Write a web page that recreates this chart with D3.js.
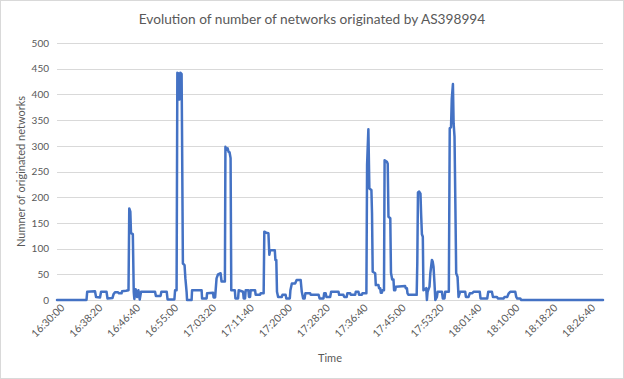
<!DOCTYPE html>
<html>
<head>
<meta charset="utf-8">
<script src="https://cdn.jsdelivr.net/npm/d3@7"></script>
<style>
  html, body { margin: 0; padding: 0; background: #fff; }
  svg { display: block; }
  text { font-family: Lato, "Noto Sans", sans-serif; }
</style>
</head>
<body>
<svg id="chart" width="624" height="379"></svg>
<script>
const chartTitle = "Evolution of number of networks originated by AS398994";
const yAxisTitle = "Numner of originated networks";
const xAxisTitle = "Time";

const yTicks = [0, 50, 100, 150, 200, 250, 300, 350, 400, 450, 500];
const xTickLabels = ["16:30:00", "16:38:20", "16:46:40", "16:55:00", "17:03:20", "17:11:40", "17:20:00",
  "17:28:20", "17:36:40", "17:45:00", "17:53:20", "18:01:40", "18:10:00", "18:18:20", "18:26:40"];
const xDomain = ["16:30:00", "18:30:00"];

const times = [
  "16:30:00","16:36:29","16:36:38","16:38:21","16:38:35","16:39:27","16:39:41","16:40:53","16:41:06","16:42:12",
  "16:42:25","16:42:45","16:43:25","16:43:38","16:44:11","16:44:18","16:45:10","16:45:43","16:45:53","16:46:07",
  "16:46:16","16:46:40","16:46:52","16:47:00","16:47:17","16:47:36","16:47:53","16:48:11","16:48:28","16:51:33",
  "16:51:44","16:52:46","16:52:56","16:54:07","16:54:18","16:55:48","16:55:57","16:56:17","16:56:27","16:56:43",
  "16:56:54","16:57:07","16:57:23","16:57:29","16:57:40","16:58:02","16:58:13","16:58:29","16:58:35","16:59:35",
  "16:59:41","17:01:47","17:01:53","17:02:53","17:02:59","17:04:18","17:04:25","17:04:45","17:05:04","17:05:24",
  "17:05:57","17:06:10","17:06:54","17:07:01","17:07:16","17:07:30","17:07:43","17:07:56","17:08:09","17:08:18",
  "17:09:05","17:09:13","17:09:48","17:09:56","17:10:54","17:11:02","17:11:20","17:11:28","17:12:04","17:12:12",
  "17:12:26","17:12:34","17:13:32","17:13:40","17:14:38","17:14:46","17:15:25","17:15:34","17:15:58","17:16:28",
  "17:16:40","17:16:50","17:17:52","17:18:00","17:18:12","17:18:21","17:18:36","17:19:25","17:19:33","17:20:15",
  "17:20:24","17:21:10","17:21:18","17:21:37","17:22:20","17:22:40","17:23:33","17:23:48","17:24:06","17:24:25",
  "17:24:35","17:25:38","17:25:46","17:27:30","17:27:43","17:28:34","17:28:43","17:29:03","17:29:13","17:30:02",
  "17:30:15","17:31:52","17:32:01","17:32:57","17:33:07","17:33:40","17:33:49","17:34:26","17:34:34","17:35:32",
  "17:35:40","17:36:15","17:36:23","17:37:00","17:37:08","17:38:00","17:38:09","17:38:26","17:38:39","17:39:06",
  "17:39:14","17:39:23","17:39:56","17:40:04","17:40:39","17:40:47","17:41:02","17:41:10","17:41:24","17:41:31",
  "17:41:52","17:42:00","17:42:30","17:42:41","17:42:51","17:43:15","17:43:24","17:43:40","17:43:57","17:44:05",
  "17:44:20","17:44:28","17:46:31","17:46:39","17:46:54","17:47:02","17:47:15","17:49:03","17:49:11","17:49:20",
  "17:49:36","17:49:53","17:50:01","17:50:12","17:50:24","17:50:32","17:51:09","17:51:18","17:51:27","17:51:52",
  "17:52:03","17:52:24","17:52:34","17:52:45","17:52:58","17:53:09","17:53:30","17:53:39","17:54:36","17:54:48",
  "17:55:10","17:55:19","17:56:07","17:56:19","17:56:36","17:56:46","17:57:01","17:57:10","17:57:22","17:57:33",
  "17:57:44","17:58:02","17:58:15","17:58:35","17:59:43","17:59:52","18:00:27","18:00:43","18:01:16","18:01:33",
  "18:02:55","18:03:05","18:04:33","18:04:47","18:05:35","18:05:49","18:06:41","18:06:53","18:08:08","18:08:22",
  "18:08:57","18:09:17","18:09:37","18:10:43","18:10:56","18:11:09","18:11:49","18:12:02","18:30:00"
];
const values = [
  0,0,16,17,6,5,16,16,3,4,
  11,15,15,13,13,17,18,19,178,172,
  130,128,16,2,21,6,19,1,16,16,
  8,8,16,16,1,1,19,19,442,441,
  390,442,440,321,71,68,42,16,0,0,
  19,19,3,3,13,14,5,5,42,50,
  52,36,36,298,292,295,288,287,276,19,
  19,3,3,19,16,3,3,19,19,6,
  6,19,19,10,10,13,13,133,131,130,
  88,97,97,78,78,16,6,6,10,10,
  3,3,19,32,32,39,39,16,3,3,
  13,13,10,10,3,3,13,13,6,6,
  16,16,10,10,6,6,13,13,10,10,
  16,16,10,10,13,13,263,332,217,214,
  169,55,52,29,29,23,23,14,14,19,
  19,272,269,265,162,159,53,40,40,19,
  19,26,27,23,23,13,10,10,71,209,
  211,207,169,128,123,19,23,0,16,26,
  52,78,75,65,32,0,6,16,16,3,
  3,16,16,334,336,392,420,344,318,188,
  52,45,6,16,16,6,6,13,13,16,
  16,3,3,16,16,6,6,3,3,6,
  6,13,16,16,6,3,3,0,0
];

const parse = d3.timeParse("%H:%M:%S");
const fmt = d3.timeFormat("%H:%M:%S");
const data = times.map((t, i) => ({ t: parse(t), v: values[i] }));

const svg = d3.select("#chart");
const W = 624, H = 379;
const plot = { left: 57, right: 603, top: 43, bottom: 300 };
const textColor = "#595959";

svg.append("rect").attr("x", 0.5).attr("y", 0.5).attr("width", W - 1).attr("height", H - 1)
  .attr("fill", "#fff").attr("stroke", "#d9d9d9");

const x = d3.scaleTime().domain(xDomain.map(parse)).range([plot.left, plot.right]);
const y = d3.scaleLinear().domain([0, 500]).range([plot.bottom, plot.top]);

// gridlines
svg.append("g").selectAll("line").data(yTicks).join("line")
  .attr("x1", plot.left).attr("x2", plot.right)
  .attr("y1", d => Math.round(y(d)) + 0.5).attr("y2", d => Math.round(y(d)) + 0.5)
  .attr("stroke", "#d9d9d9").attr("stroke-width", 1);

// y axis labels
const yAxis = svg.append("g").attr("transform", `translate(${plot.left - 8},0)`)
  .call(d3.axisLeft(y).tickValues(yTicks).tickSize(0).tickPadding(0));
yAxis.select(".domain").remove();
yAxis.selectAll("text").attr("fill", textColor).style("font-size", "10px").style("font-family", "Lato, sans-serif");

// x axis labels
const xAxis = svg.append("g").attr("transform", `translate(0,${plot.bottom + 5})`)
  .call(d3.axisBottom(x).tickValues(xTickLabels.map(parse)).tickFormat(fmt).tickSize(0).tickPadding(0));
xAxis.select(".domain").remove();
xAxis.selectAll("text")
  .attr("fill", textColor).style("font-size", "10.5px").style("font-family", "Lato, sans-serif")
  .attr("text-anchor", "end").attr("dy", "0.75em").attr("dx", "0.3em")
  .attr("transform", "rotate(-45)");

// line
svg.append("path").datum(data)
  .attr("fill", "none").attr("stroke", "#4472C4").attr("stroke-width", 2.5)
  .attr("stroke-linejoin", "round").attr("stroke-linecap", "round")
  .attr("d", d3.line().x(d => x(d.t)).y(d => y(d.v)));

// titles
svg.append("text").attr("x", W / 2).attr("y", 24).attr("text-anchor", "middle")
  .attr("fill", textColor).style("font-size", "13.7px").text(chartTitle);
svg.append("text").attr("x", (plot.left + plot.right) / 2).attr("y", 362).attr("text-anchor", "middle")
  .attr("fill", textColor).style("font-size", "11px").text(xAxisTitle);
svg.append("text").attr("transform", `translate(25,${(plot.top + plot.bottom) / 2}) rotate(-90)`)
  .attr("text-anchor", "middle").attr("fill", textColor).style("font-size", "11px").text(yAxisTitle);
</script>
</body>
</html>
